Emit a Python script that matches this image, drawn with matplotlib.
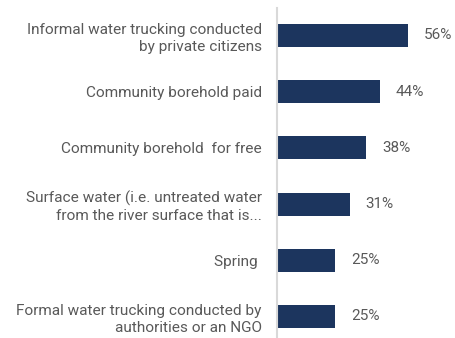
import matplotlib
matplotlib.use("Agg")
import matplotlib.pyplot as plt

categories = [
    "Informal water trucking conducted\nby private citizens",
    "Community borehold paid",
    "Community borehold  for free",
    "Surface water (i.e. untreated water\nfrom the river surface that is...",
    "Spring ",
    "Formal water trucking conducted by\nauthorities or an NGO",
]
values = [56, 44, 38, 31, 25, 25]
value_labels = ["56%", "44%", "38%", "31%", "25%", "25%"]

BAR_COLOR = "#1C355E"
TEXT_COLOR = "#595959"
plt.rcParams["font.family"] = ["Roboto", "DejaVu Sans"]

fig = plt.figure(figsize=(4.56, 3.38), dpi=100)
ax = fig.add_axes([277 / 456, 0.0, 179 / 456, 330 / 338])

pos = list(range(len(categories)))
ax.barh(pos, values, height=0.41, color=BAR_COLOR, left=0)
ax.set_ylim(5.383, -0.489)
ax.set_xlim(0, 76.5)

for y, v, lab in zip(pos, values, value_labels):
    ax.annotate(lab, (v, y), xytext=(11.5, 0), textcoords="offset points",
                ha="left", va="center", color=TEXT_COLOR, fontsize=11)

ax.set_yticks(pos)
ax.set_yticklabels(categories, color=TEXT_COLOR, fontsize=11.1, linespacing=1.25)
ax.tick_params(axis="y", length=0, pad=11)
ax.set_xticks([])

for side in ["top", "right", "bottom"]:
    ax.spines[side].set_visible(False)
ax.spines["left"].set_color("#D9D9D9")
ax.spines["left"].set_linewidth(1.5)

fig.savefig("out.png", dpi=100)
